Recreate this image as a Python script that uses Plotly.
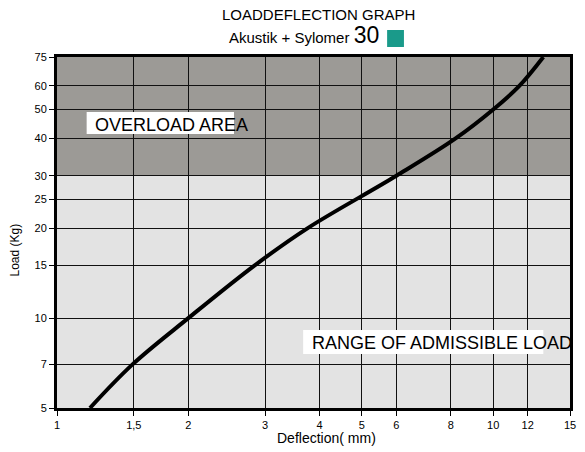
import math
import plotly.graph_objects as go

# Data (Deflection mm vs Load Kg)
deflection = [1.19, 1.49, 2.0, 2.835, 3.75, 6.0, 8.2, 10.0, 11.48, 13.03]
load = [5, 7, 10, 15, 20, 30, 40, 50, 60, 75]

x_tickvals = [1, 1.5, 2, 3, 4, 5, 6, 8, 10, 12, 15]
x_ticktext = ["1", "1,5", "2", "3", "4", "5", "6", "8", "10", "12", "15"]
y_tickvals = [5, 7, 10, 15, 20, 25, 30, 40, 50, 60, 75]
y_ticktext = ["5", "7", "10", "15", "20", "25", "30", "40", "50", "60", "75"]

overload_threshold = 30
x_min, x_max = 1, 15
y_min, y_max = 5, 75

FONT = "Liberation Sans, Arial, sans-serif"
DARK = "#9c9a96"
LIGHT = "#e3e3e3"
TEAL = "#1a9a8a"

fig = go.Figure()
fig.add_trace(go.Scatter(
    x=deflection, y=load, mode="lines",
    line=dict(color="black", width=4, shape="spline", smoothing=1.0),
    hoverinfo="skip", showlegend=False,
))

axis_common = dict(
    type="log", showgrid=True, gridcolor="#111111", gridwidth=1,
    showline=True, linecolor="black", linewidth=3, mirror=True,
    ticks="outside", ticklen=5, tickcolor="black", tickwidth=1,
    tickfont=dict(family=FONT, size=11, color="black"),
    zeroline=False,
)
fig.update_xaxes(range=[math.log10(x_min), math.log10(x_max)],
                 tickvals=x_tickvals, ticktext=x_ticktext, **axis_common)
fig.update_yaxes(range=[math.log10(y_min), math.log10(y_max)],
                 tickvals=y_tickvals, ticktext=y_ticktext, **axis_common)

shapes = [
    dict(type="rect", xref="x", yref="y", x0=x_min, x1=x_max,
         y0=overload_threshold, y1=y_max, fillcolor=DARK, line=dict(width=0),
         layer="below"),
    # white boxes behind the labels
    dict(type="rect", xref="paper", yref="paper", x0=0.0578, x1=0.345,
         y0=0.7806, y1=0.8433, fillcolor="white", line=dict(width=0), layer="above"),
    dict(type="rect", xref="paper", yref="paper", x0=0.4798, x1=0.948,
         y0=0.1538, y1=0.2222, fillcolor="white", line=dict(width=0), layer="above"),
    # teal square in title
    dict(type="rect", xref="paper", yref="paper", x0=0.6435, x1=0.6763,
         y0=1.0285, y1=1.0769, fillcolor=TEAL, line=dict(width=0)),
]

annotations = [
    dict(text="LOADDEFLECTION GRAPH", xref="paper", yref="paper", x=0.509, y=1.1197,
         xanchor="center", yanchor="middle", showarrow=False,
         font=dict(family=FONT, size=15, color="black")),
    dict(text="Akustik + Sylomer <span style='font-size:23px'>30</span>",
         xref="paper", yref="paper", x=0.6320, y=1.02,
         xanchor="right", yanchor="bottom", showarrow=False,
         font=dict(family=FONT, size=15, color="black")),
    dict(text="OVERLOAD AREA", xref="paper", yref="paper", x=0.0694, y=0.806,
         xanchor="left", yanchor="middle", showarrow=False,
         font=dict(family=FONT, size=18, color="black")),
    dict(text="RANGE OF ADMISSIBLE LOAD", xref="paper", yref="paper", x=0.4933, y=0.185,
         xanchor="left", yanchor="middle", showarrow=False,
         font=dict(family=FONT, size=18, color="black")),
    dict(text="Load (Kg)", xref="paper", yref="paper", x=-0.081, y=0.45,
         xanchor="center", yanchor="middle", showarrow=False, textangle=-90,
         font=dict(family=FONT, size=12, color="black")),
    dict(text="Deflection( mm)", xref="paper", yref="paper", x=0.526, y=-0.0855,
         xanchor="center", yanchor="middle", showarrow=False,
         font=dict(family=FONT, size=14, color="black")),
]

fig.update_layout(
    width=585, height=452,
    margin=dict(l=57, r=9, t=57, b=44),
    paper_bgcolor="white", plot_bgcolor=LIGHT,
    shapes=shapes, annotations=annotations,
    showlegend=False,
    font=dict(family=FONT, color="black"),
)

fig.write_html("out.html",
               config={"displayModeBar": False},
               post_script="document.body.style.margin='0px';document.body.style.overflow='hidden';")
